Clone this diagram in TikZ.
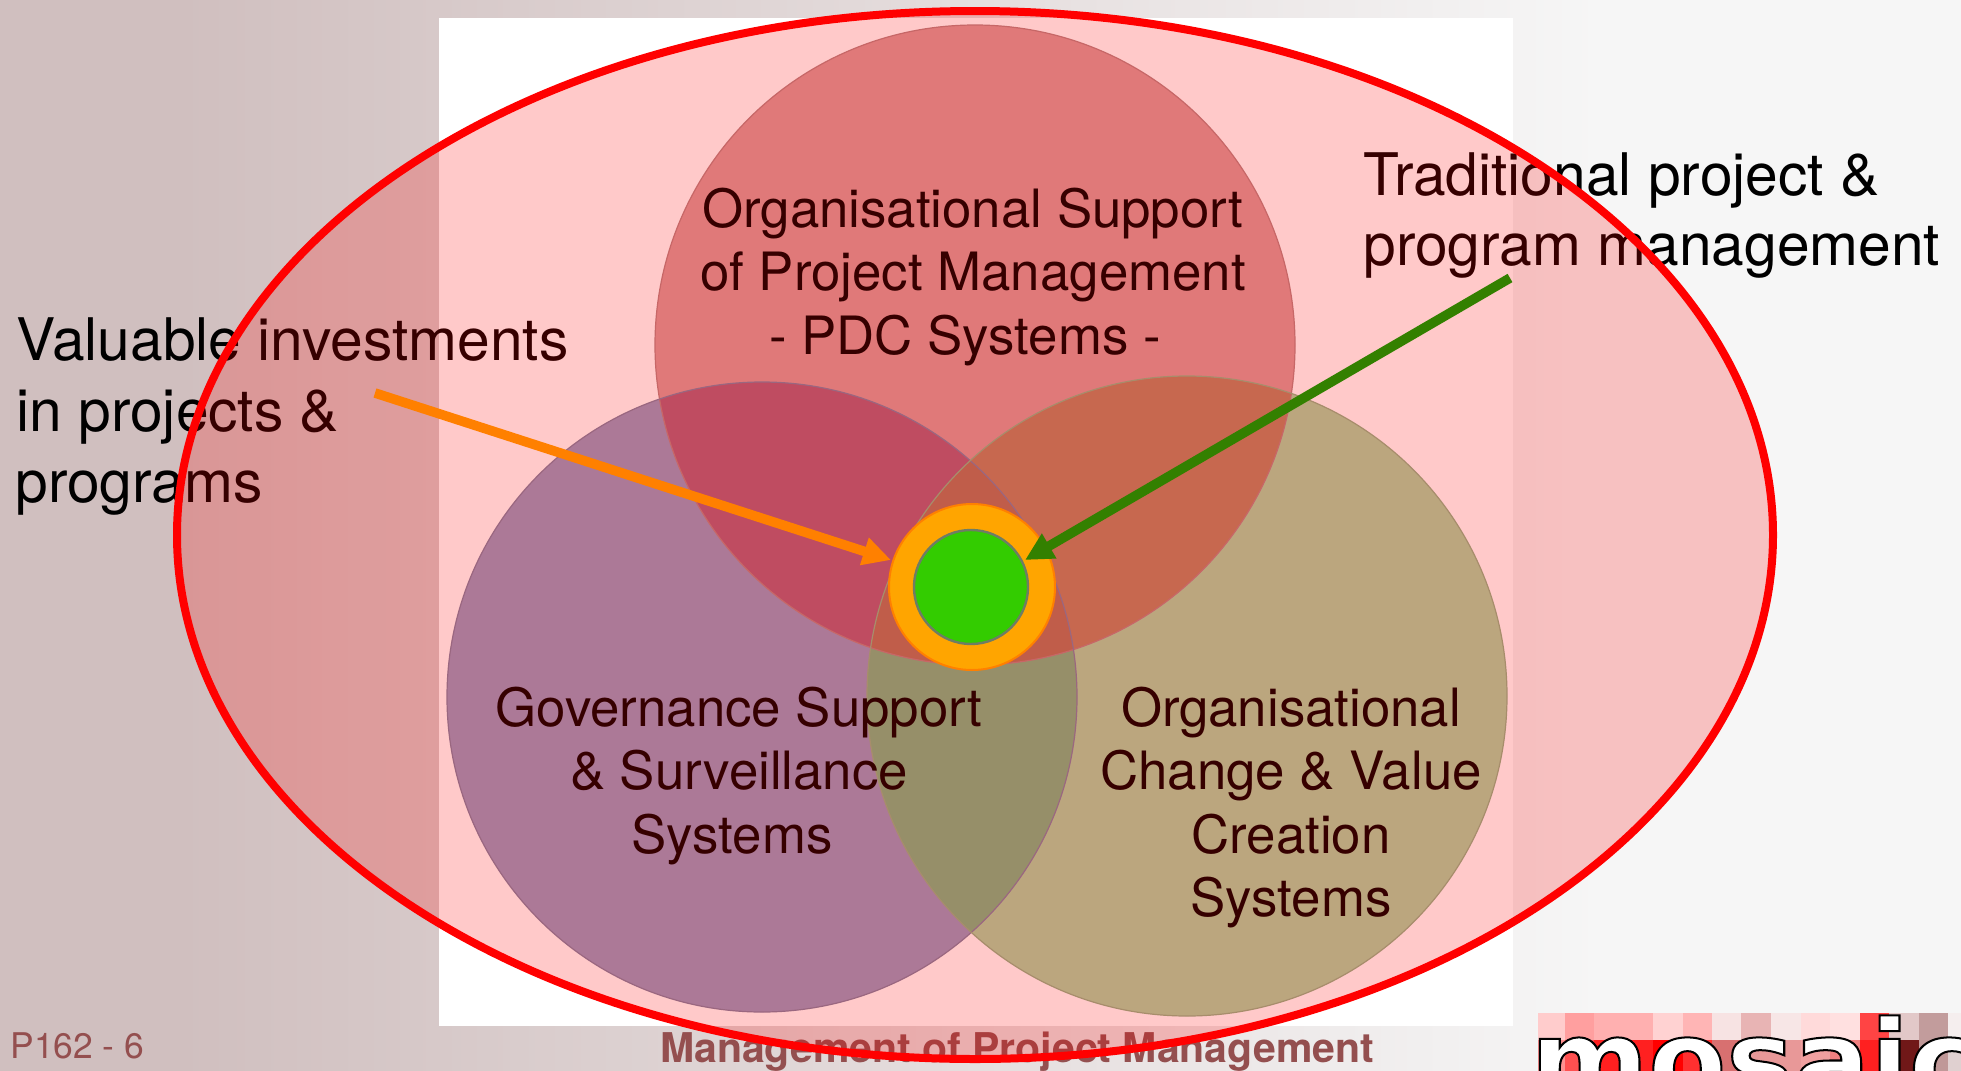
\documentclass[tikz,border=0pt]{standalone}
\usepackage{fontspec}
\usepackage{graphicx}
\setmainfont{TeX Gyre Heros}
\newfontfamily\logofont{DejaVu Sans}
\usetikzlibrary{arrows.meta,shapes.geometric}
\definecolor{cT}{RGB}{216,154,154}
\definecolor{cL}{RGB}{150,154,192}
\definecolor{cR}{RGB}{169,211,161}
\definecolor{cTL}{RGB}{175,97,124}
\definecolor{cTR}{RGB}{185,132,101}
\definecolor{cLR}{RGB}{123,182,134}
\definecolor{cTLR}{RGB}{176,118,95}
\definecolor{footc}{RGB}{148,79,79}
\definecolor{bgL}{RGB}{208,191,191}
\definecolor{bgR}{RGB}{246,246,246}
\tikzset{
  x=0.5pt,y=-0.5pt,
  bigtext/.style={font=\fontsize{26.4pt}{30pt}\selectfont,anchor=base,text=black,inner sep=0pt},
  sidetext/.style={font=\fontsize{29.35pt}{34pt}\selectfont,anchor=base west,text=black,inner sep=0pt},
  ptr/.style={line width=4.8pt,-{Triangle[length=14pt,width=13.5pt]}},
}
\begin{document}
\begin{tikzpicture}
\useasboundingbox (0,0) rectangle (1961,1071);
\fill[bgL] (0,0) rectangle (181,1071);
\shade[left color=bgL,right color=bgR] (180,0) rectangle (1600,1071);
\fill[bgR] (1599,0) rectangle (1961,1071);
\fill[white] (439,18) rectangle (1513,1026);
% circles
\def\cirT{(975,345) circle [radius=320]}
\def\cirL{(762,697) circle [radius=315]}
\def\cirR{(1187,696) circle [radius=320]}
\fill[cL] \cirL;
\fill[cR] \cirR;
\fill[cT] \cirT;
\begin{scope}\clip \cirT; \fill[cTL] \cirL; \fill[cTR] \cirR;
\begin{scope}\clip \cirL; \fill[cTLR] \cirR;\end{scope}\end{scope}
\begin{scope}\clip \cirL; \fill[cLR] \cirR; \begin{scope}\clip \cirT; \fill[cTLR] \cirR;\end{scope}\end{scope}
\draw[cT!85!black,line width=0.6pt] \cirT;
\draw[cL!85!black,line width=0.6pt] \cirL;
\draw[cR!85!black,line width=0.6pt] \cirR;
% texts
\node[bigtext] (t1) at (973,227) {Organisational Support};
\node[bigtext] (t2) at (973,290) {of Project Management};
\node[bigtext] (t3) at (965,354) {- PDC Systems -};
\node[bigtext] (g1) at (739,726) {Governance Support};
\node[bigtext] (g2) at (739,789) {\& Surveillance};
\node[bigtext] (g3) at (732,853) {Systems};
\node[bigtext] (o1) at (1291,726) {Organisational};
\node[bigtext] (o2) at (1291,789) {Change \& Value};
\node[bigtext] (o3) at (1291,853) {Creation};
\node[bigtext] (o4) at (1291,916) {Systems};
\node[sidetext] (v1) at (16,360) {Valuable investments};
\node[sidetext] (v2) at (16,431) {in projects \&};
\node[sidetext] (v3) at (15,502) {programs};
\node[sidetext] (r1) at (1363,195) {Traditional project \&};
\node[sidetext] (r2) at (1363,265) {program management};
\node[anchor=base west,inner sep=0pt,text=footc,font=\fontsize{17.7pt}{20pt}\selectfont] (pg) at (10,1058) {P162 - 6};
\node[anchor=base,inner sep=0pt,text=footc,font=\fontsize{20.5pt}{22pt}\selectfont\bfseries] (ft) at (1017,1062) {Management of Project Management};
% logo
\foreach \xa/\xb/\c in {1538/1565/FFCCCC,1565/1594/FF9F9F,1594/1653/FFB0B0,1653/1683/FFD2D2,1683/1712/FFB5B5,1712/1741/F7E3E3,1741/1771/E8B4B4,1771/1801/F7E6E6,1801/1830/FFDADA,1830/1860/FFE0E0,1860/1889/FF4444,1889/1919/E2C8C8,1919/1948/C29C9C,1948/1961/F5EEEE}{
  \definecolor{tmpc}{HTML}{\c}\fill[tmpc] (\xa,1013) rectangle (\xb,1040);}
\foreach \xa/\xb/\c in {1538/1565/FF9090,1565/1594/FF5050,1594/1653/FF2020,1653/1683/FF0000,1683/1712/FF3030,1712/1741/D87070,1741/1771/E89898,1771/1801/E89898,1801/1830/F0A0A0,1830/1860/F08080,1860/1889/FF2020,1889/1919/701818,1919/1948/C09898,1948/1961/E0D0D0}{
  \definecolor{tmpc}{HTML}{\c}\fill[tmpc] (\xa,1040) rectangle (\xb,1071);}
\node[anchor=base west,inner sep=0pt,font=\logofont\bfseries\fontsize{55pt}{60pt}\selectfont] (logo) at (1530,1099) {\scalebox{1.03}[1]{\special{pdf:code q 2 Tr 1 w 0 0 0 RG 1 1 1 rg}mosaic\special{pdf:code 0 Tr Q}}};
% overlay ellipse
\node[ellipse,draw=red,line width=4pt,fill=red,fill opacity=0.21,draw opacity=1,minimum width=798pt,minimum height=524pt,inner sep=0pt] (ell) at (975,535) {};
% centre
\node[circle,draw={rgb,255:red,255;green,128;blue,0},line width=1pt,minimum size=83pt,inner sep=0pt,fill={rgb,255:red,255;green,165;blue,0}] (ring) at (972,587) {};
\node[circle,fill={rgb,255:red,51;green,204;blue,0},draw={rgb,255:red,110;green,125;blue,100},line width=1.2pt,minimum size=57pt,inner sep=0pt] (core) at (971,587) {};
\coordinate (as) at (375,393);
\coordinate (bs) at (1510,278);
\coordinate (at) at (891,560);
\coordinate (bt) at (1025,560);
\draw[ptr,color={rgb,255:red,255;green,128;blue,0}] (as) -- (at);
\draw[ptr,color={rgb,255:red,51;green,128;blue,0}] (bs) -- (bt);
\end{tikzpicture}
\end{document}
